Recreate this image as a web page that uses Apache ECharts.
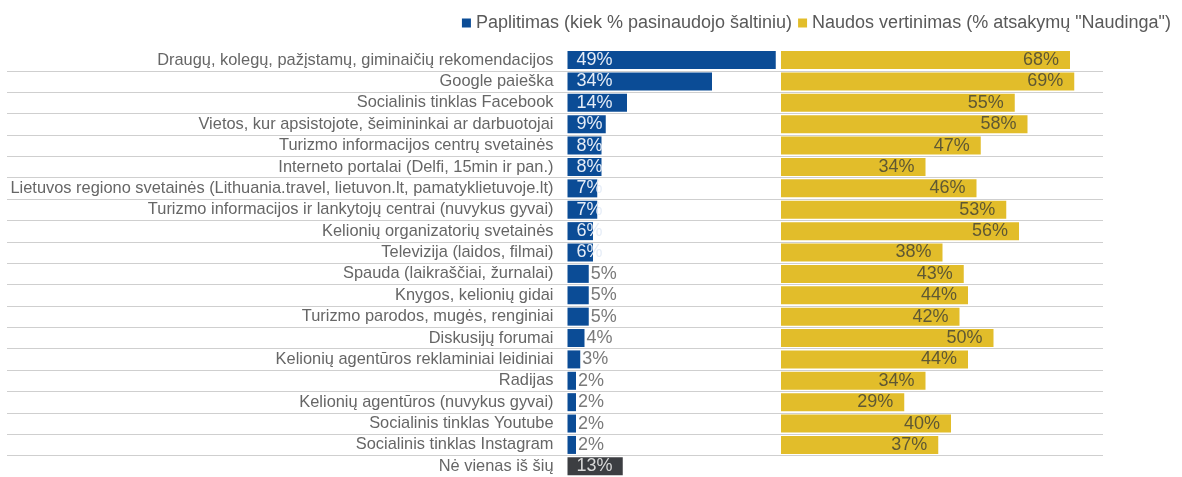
<!DOCTYPE html>
<html>
<head>
<meta charset="utf-8">
<script src="https://cdn.jsdelivr.net/npm/echarts@6/dist/echarts.min.js"></script>
<style>
  html, body { margin: 0; padding: 0; background: #ffffff; }
  #chart { width: 1182px; height: 477px; }
</style>
</head>
<body>
<div id="chart"></div>
<script>
// Information sources: how widely each was used and how useful respondents found it
const categories = [
  'Draugų, kolegų, pažįstamų, giminaičių rekomendacijos',
  'Google paieška',
  'Socialinis tinklas Facebook',
  'Vietos, kur apsistojote, šeimininkai ar darbuotojai',
  'Turizmo informacijos centrų svetainės',
  'Interneto portalai (Delfi, 15min ir pan.)',
  'Lietuvos regiono svetainės (Lithuania.travel, lietuvon.lt, pamatyklietuvoje.lt)',
  'Turizmo informacijos ir lankytojų centrai (nuvykus gyvai)',
  'Kelionių organizatorių svetainės',
  'Televizija (laidos, filmai)',
  'Spauda (laikraščiai, žurnalai)',
  'Knygos, kelionių gidai',
  'Turizmo parodos, mugės, renginiai',
  'Diskusijų forumai',
  'Kelionių agentūros reklaminiai leidiniai',
  'Radijas',
  'Kelionių agentūros (nuvykus gyvai)',
  'Socialinis tinklas Youtube',
  'Socialinis tinklas Instagram',
  'Nė vienas iš šių'
];

// Paplitimas: share of respondents who used the source, %
const prevalence = [49, 34, 14, 9, 8, 8, 7, 7, 6, 6, 5, 5, 5, 4, 3, 2, 2, 2, 2, 13];

// Naudos vertinimas: share of users who rated the source "Naudinga", %
const usefulness = [68, 69, 55, 58, 47, 34, 46, 53, 56, 38, 43, 44, 42, 50, 44, 34, 29, 40, 37, null];

const seriesNames = [
  'Paplitimas (kiek % pasinaudojo šaltiniu)',
  'Naudos vertinimas (% atsakymų "Naudinga")'
];

const BLUE = '#0b4c96';
const YELLOW = '#e2bd2a';
const NONE_COLOR = '#3c3e42';
const FONT = '"Liberation Sans", Arial, sans-serif';

const TOP = 49.4;
const HEIGHT = 432;
const noneLabel = 'Nė vienas iš šių';

// Blue bars: wide bars carry the value inside in white, narrow ones beside the bar in grey
const prevalenceData = prevalence.map((v, i) => {
  const isNone = categories[i] === noneLabel;
  const inside = v >= 6;
  return {
    value: v,
    itemStyle: { color: isNone ? NONE_COLOR : BLUE },
    label: inside
      ? { position: 'insideLeft', distance: 9, color: isNone ? '#d8d8d8' : '#e6edf7' }
      : { position: 'right', distance: 2, color: '#7a7a7a' }
  };
});

const chart = echarts.init(document.getElementById('chart'), null, { renderer: 'canvas' });

chart.setOption({
  animation: false,
  backgroundColor: '#ffffff',
  textStyle: { fontFamily: FONT },
  legend: {
    right: 6,
    top: 9,
    itemWidth: 9,
    itemHeight: 9,
    itemGap: 6,
    icon: 'rect',
    textStyle: { fontSize: 18, color: '#595959', fontFamily: FONT },
    data: seriesNames
  },
  grid: [
    // full-width band holding the row separators
    { left: 7, right: 79, top: TOP, height: HEIGHT },
    // prevalence panel
    { left: 567.5, width: 212.5, top: TOP, height: HEIGHT },
    // usefulness panel
    { left: 781, width: 318.75, top: TOP, height: HEIGHT }
  ],
  xAxis: [
    { gridIndex: 0, type: 'value', min: 0, max: 100, show: false },
    { gridIndex: 1, type: 'value', min: 0, max: 50, show: false },
    { gridIndex: 2, type: 'value', min: 0, max: 75, show: false }
  ],
  yAxis: [
    {
      gridIndex: 0, type: 'category', data: categories, inverse: true,
      axisLine: { show: false }, axisTick: { show: false }, axisLabel: { show: false },
      splitLine: {
        show: true,
        interval: (idx) => idx > 0,
        lineStyle: { color: '#cfcfcf', width: 1.2 }
      }
    },
    {
      gridIndex: 1, type: 'category', data: categories, inverse: true,
      axisLine: { show: false }, axisTick: { show: false }, splitLine: { show: false },
      axisLabel: { margin: 14, fontSize: 16.4, color: '#666666', fontFamily: FONT, padding: [0, 0, 3, 0] }
    },
    {
      gridIndex: 2, type: 'category', data: categories, inverse: true,
      axisLine: { show: false }, axisTick: { show: false }, splitLine: { show: false },
      axisLabel: { show: false }
    }
  ],
  series: [
    {
      name: seriesNames[0],
      type: 'bar',
      xAxisIndex: 1,
      yAxisIndex: 1,
      barWidth: 18,
      itemStyle: { color: BLUE },
      label: {
        show: true,
        formatter: '{c}%',
        fontSize: 18,
        fontFamily: FONT
      },
      data: prevalenceData
    },
    {
      name: seriesNames[1],
      type: 'bar',
      xAxisIndex: 2,
      yAxisIndex: 2,
      barWidth: 18,
      itemStyle: { color: YELLOW },
      label: {
        show: true,
        position: 'insideRight',
        distance: 11,
        formatter: '{c}%',
        fontSize: 18,
        color: '#5f5833',
        fontFamily: FONT
      },
      data: usefulness
    }
  ]
});
</script>
</body>
</html>
